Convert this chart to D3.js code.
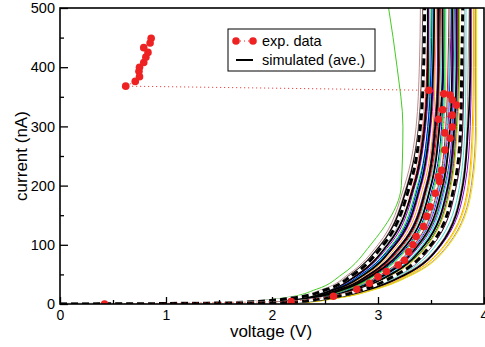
<!DOCTYPE html>
<html>
<head>
<meta charset="utf-8">
<script src="https://cdnjs.cloudflare.com/ajax/libs/d3/7.8.5/d3.min.js"></script>
<style>
  body { margin: 0; background: #fff; }
  svg { display: block; font-family: "Liberation Sans", Arial, Helvetica, sans-serif; }
</style>
</head>
<body>
<div id="chart"></div>
<script>
// current levels (nA) at which each simulated curve's voltage was read
const currentLevels = [0, 2, 10, 25, 50, 100, 200, 300, 400, 500];

// thin coloured simulated runs: voltage (V) at each current level
const simColors = [
  "#bc8f8f", "#bc8f8f", "#0000ff", "#b0b0b0", "#ff0000", "#9400d3", "#00ff00", "#00e5e5",
  "#ff00ff", "#ffa500", "#7221bc", "#670748", "#40e0d0", "#008b00", "#0000ff", "#b0b0b0",
  "#ff0000", "#9400d3", "#00ff00", "#00e5e5", "#ff00ff", "#ffa500", "#7221bc", "#670748",
  "#40e0d0", "#bc8f8f", "#9400d3", "#ffa500", "#f0e000", "#bc8f8f", "#f0e000",
  "#0000ff", "#ff0000", "#00ff00", "#00e5e5", "#9400d3", "#008b00", "#40e0d0"
];
const simVoltages = [
  [0, 1.55, 2.15, 2.48, 2.72, 3.00, 3.25, 3.36, 3.39, 3.40],
  [0, 1.57, 2.16, 2.50, 2.74, 3.02, 3.27, 3.38, 3.41, 3.42],
  [0, 1.59, 2.18, 2.51, 2.76, 3.04, 3.29, 3.39, 3.42, 3.43],
  [0, 1.62, 2.20, 2.53, 2.78, 3.07, 3.31, 3.42, 3.44, 3.45],
  [0, 1.64, 2.21, 2.55, 2.80, 3.09, 3.33, 3.43, 3.46, 3.47],
  [0, 1.66, 2.23, 2.56, 2.82, 3.11, 3.35, 3.45, 3.48, 3.48],
  [0, 1.68, 2.24, 2.58, 2.84, 3.13, 3.37, 3.47, 3.49, 3.50],
  [0, 1.70, 2.25, 2.59, 2.85, 3.15, 3.39, 3.48, 3.51, 3.52],
  [0, 1.73, 2.27, 2.61, 2.87, 3.17, 3.41, 3.50, 3.53, 3.53],
  [0, 1.75, 2.28, 2.62, 2.89, 3.19, 3.43, 3.52, 3.54, 3.55],
  [0, 1.77, 2.30, 2.64, 2.91, 3.21, 3.45, 3.53, 3.56, 3.56],
  [0, 1.79, 2.31, 2.65, 2.93, 3.23, 3.46, 3.55, 3.57, 3.58],
  [0, 1.81, 2.32, 2.67, 2.95, 3.25, 3.48, 3.57, 3.59, 3.60],
  [0, 1.83, 2.34, 2.68, 2.96, 3.27, 3.50, 3.58, 3.61, 3.61],
  [0, 1.85, 2.35, 2.70, 2.98, 3.29, 3.52, 3.60, 3.62, 3.63],
  [0, 1.87, 2.37, 2.71, 3.00, 3.31, 3.54, 3.62, 3.64, 3.64],
  [0, 1.90, 2.39, 2.73, 3.03, 3.34, 3.57, 3.64, 3.66, 3.67],
  [0, 1.93, 2.40, 2.75, 3.05, 3.36, 3.59, 3.66, 3.68, 3.69],
  [0, 1.96, 2.42, 2.77, 3.07, 3.39, 3.62, 3.68, 3.70, 3.71],
  [0, 1.98, 2.44, 2.79, 3.10, 3.42, 3.64, 3.71, 3.72, 3.73],
  [0, 2.01, 2.46, 2.81, 3.12, 3.44, 3.67, 3.73, 3.75, 3.75],
  [0, 2.04, 2.48, 2.83, 3.15, 3.47, 3.69, 3.75, 3.77, 3.77],
  [0, 2.07, 2.50, 2.85, 3.17, 3.50, 3.72, 3.77, 3.79, 3.79],
  [0, 2.10, 2.52, 2.87, 3.20, 3.52, 3.74, 3.80, 3.81, 3.81],
  [0, 2.12, 2.54, 2.89, 3.22, 3.55, 3.77, 3.82, 3.83, 3.83],
  [0, 2.15, 2.55, 2.91, 3.24, 3.58, 3.79, 3.84, 3.85, 3.86],
  [0, 2.18, 2.57, 2.93, 3.27, 3.60, 3.82, 3.87, 3.88, 3.88],
  [0, 2.21, 2.59, 2.95, 3.29, 3.63, 3.85, 3.89, 3.90, 3.90],
  [0, 2.22, 2.60, 2.96, 3.30, 3.64, 3.86, 3.90, 3.91, 3.91],
  [0, 2.24, 2.61, 2.97, 3.32, 3.66, 3.88, 3.92, 3.92, 3.92],
  [0, 2.25, 2.62, 2.98, 3.33, 3.67, 3.89, 3.93, 3.93, 3.93],
  [0, 1.69, 2.24, 2.58, 2.84, 3.14, 3.38, 3.47, 3.50, 3.51],
  [0, 1.80, 2.31, 2.66, 2.94, 3.24, 3.47, 3.56, 3.58, 3.59],
  [0, 1.86, 2.36, 2.70, 2.99, 3.30, 3.53, 3.61, 3.63, 3.63],
  [0, 1.92, 2.40, 2.74, 3.04, 3.35, 3.58, 3.65, 3.67, 3.68],
  [0, 1.97, 2.43, 2.78, 3.08, 3.40, 3.63, 3.70, 3.71, 3.72],
  [0, 2.03, 2.47, 2.82, 3.13, 3.46, 3.68, 3.74, 3.76, 3.76],
  [0, 1.72, 2.26, 2.60, 2.86, 3.16, 3.40, 3.49, 3.52, 3.52]
];

// the one run that bends back at high current
const outlierColor = "#44cc22";
const outlierVoltages = [0, 1.52, 2.10, 2.42, 2.66, 2.93, 3.22, 3.235, 3.18, 3.10];

// thick black runs
const blackVoltages = [
  [0, 1.59, 2.17, 2.51, 2.75, 3.03, 3.28, 3.39, 3.42, 3.43],
  [0, 1.65, 2.22, 2.55, 2.81, 3.09, 3.34, 3.44, 3.47, 3.47],
  [0, 1.72, 2.26, 2.60, 2.87, 3.16, 3.40, 3.49, 3.52, 3.53],
  [0, 1.78, 2.31, 2.65, 2.92, 3.22, 3.46, 3.54, 3.57, 3.57],
  [0, 1.83, 2.34, 2.68, 2.96, 3.27, 3.50, 3.58, 3.61, 3.61],
  [0, 1.95, 2.42, 2.77, 3.07, 3.38, 3.61, 3.68, 3.70, 3.70],
  [0, 2.01, 2.46, 2.81, 3.12, 3.44, 3.66, 3.72, 3.74, 3.74],
  [0, 2.08, 2.51, 2.86, 3.18, 3.51, 3.73, 3.79, 3.80, 3.80],
  [0, 2.17, 2.56, 2.92, 3.26, 3.59, 3.80, 3.85, 3.87, 3.87]
];

// simulated averages (black/white dashed)
const avgVoltages = [
  [0, 1.61, 2.19, 2.52, 2.77, 3.05, 3.30, 3.40, 3.43, 3.44],
  [0, 2.08, 2.50, 2.86, 3.18, 3.50, 3.72, 3.78, 3.79, 3.80]
];

// experimental data, in recorded order
const expVoltage = [0.42, 2.18, 2.58, 2.80, 2.92, 3.00, 3.08, 3.19, 3.25, 3.29, 3.33, 3.36, 3.43, 3.46, 3.49,
  3.54, 3.58, 3.57, 3.60, 3.63, 3.68, 3.63, 3.70, 3.57, 3.70, 3.61, 3.74, 3.70, 3.68, 3.62, 3.48,
  0.62, 0.71, 0.75, 0.745, 0.75, 0.79, 0.81, 0.83, 0.79, 0.85, 0.86];
const expCurrent = [0, 4, 13, 25, 35, 46, 55, 66, 74, 88, 100, 114, 131, 148, 164,
  187, 207, 215, 226, 260, 280, 289, 299, 312, 319, 328, 336, 345, 353, 355, 361,
  368, 376, 384, 393, 400, 408, 417, 425, 433, 441, 449];

const xTicks = [0, 1, 2, 3, 4];
const xMinor = [0.5, 1.5, 2.5, 3.5];
const yTicks = [0, 100, 200, 300, 400, 500];
const yMinor = [50, 150, 250, 350, 450];

const margin = {top: 8, right: 1, bottom: 43, left: 60};
const width = 485 - margin.left - margin.right;
const height = 347 - margin.top - margin.bottom;

const svg = d3.select("#chart")
  .append("svg")
    .attr("width", 485)
    .attr("height", 347)
  .append("g")
    .attr("transform", "translate(" + margin.left + "," + margin.top + ")");

const x = d3.scaleLinear().domain([0, 4]).range([0, width]);
const y = d3.scaleLinear().domain([0, 500]).range([height, 0]);

svg.append("clipPath").attr("id", "plot-clip")
  .append("rect").attr("width", width).attr("height", height);

const plot = svg.append("g").attr("clip-path", "url(#plot-clip)");

const simLine = d3.line()
  .x(d => x(d[0]))
  .y(d => y(d[1]))
  .curve(d3.curveMonotoneY);

function toPoints(volts) {
  return volts.map((v, i) => [v, currentLevels[i]]);
}

// coloured runs
simVoltages.forEach((volts, i) => {
  plot.append("path")
    .attr("d", simLine(toPoints(volts)))
    .attr("fill", "none")
    .attr("stroke", simColors[i])
    .attr("stroke-width", 1);
});

plot.append("path")
  .attr("d", simLine(toPoints(outlierVoltages)))
  .attr("fill", "none")
  .attr("stroke", outlierColor)
  .attr("stroke-width", 1);

// black runs
blackVoltages.forEach(volts => {
  plot.append("path")
    .attr("d", simLine(toPoints(volts)))
    .attr("fill", "none")
    .attr("stroke", "#000")
    .attr("stroke-width", 1.8);
});

// averages
avgVoltages.forEach(volts => {
  plot.append("path")
    .attr("d", simLine(toPoints(volts)))
    .attr("fill", "none")
    .attr("stroke", "#fff")
    .attr("stroke-width", 3);
  plot.append("path")
    .attr("d", simLine(toPoints(volts)))
    .attr("fill", "none")
    .attr("stroke", "#000")
    .attr("stroke-width", 3)
    .attr("stroke-dasharray", "7,4");
});

// experimental data
const expPoints = expVoltage.map((v, i) => [v, expCurrent[i]]);
plot.append("path")
  .attr("d", d3.line().x(d => x(d[0])).y(d => y(d[1]))(expPoints))
  .attr("fill", "none")
  .attr("stroke", "#ee2222")
  .attr("stroke-width", 1)
  .attr("stroke-dasharray", "1,3");

plot.selectAll(".dot")
  .data(expPoints)
  .enter()
  .append("circle")
    .attr("class", "dot")
    .attr("cx", d => x(d[0]))
    .attr("cy", d => y(d[1]))
    .attr("r", 3.8)
    .attr("fill", "#ee2222");

// axes, ticks pointing inward
const xAxis = svg.append("g")
  .attr("transform", "translate(0," + height + ")")
  .style("font-size", "14px")
  .call(d3.axisBottom(x).tickValues(xTicks).tickFormat(d3.format("d")).tickSize(-7).tickPadding(6));
xAxis.select(".domain").remove();

const xAxisMinor = svg.append("g")
  .attr("transform", "translate(0," + height + ")")
  .call(d3.axisBottom(x).tickValues(xMinor).tickFormat("").tickSize(-4));
xAxisMinor.select(".domain").remove();

const yAxis = svg.append("g")
  .style("font-size", "14.5px")
  .call(d3.axisLeft(y).tickValues(yTicks).tickSize(-8).tickPadding(5));
yAxis.select(".domain").remove();

const yAxisMinor = svg.append("g")
  .call(d3.axisLeft(y).tickValues(yMinor).tickFormat("").tickSize(-4));
yAxisMinor.select(".domain").remove();

svg.selectAll(".tick line").attr("stroke-width", 1.3);
svg.selectAll(".tick text").attr("font-family", "'Liberation Sans', Arial, sans-serif").attr("fill", "#000");

svg.append("rect")
  .attr("width", width)
  .attr("height", height)
  .attr("fill", "none")
  .attr("stroke", "#000")
  .attr("stroke-width", 1.6);

// axis titles
svg.append("text")
  .attr("x", width / 2 - 1)
  .attr("y", height + 33)
  .attr("text-anchor", "middle")
  .style("font-size", "17px")
  .text("voltage (V)");

svg.append("text")
  .attr("transform", "translate(" + (27 - margin.left) + "," + (height / 2) + ") rotate(-90)")
  .attr("text-anchor", "middle")
  .style("font-size", "17px")
  .text("current (nA)");

// legend
const legend = svg.append("g").attr("transform", "translate(" + (228 - margin.left) + "," + (29 - margin.top) + ")");
legend.append("rect")
  .attr("width", 147)
  .attr("height", 42)
  .attr("fill", "#fff")
  .attr("stroke", "#000")
  .attr("stroke-width", 1);
legend.append("line")
  .attr("x1", 8).attr("x2", 25).attr("y1", 12).attr("y2", 12)
  .attr("stroke", "#ee2222").attr("stroke-width", 1).attr("stroke-dasharray", "1,3");
legend.selectAll(".ldot")
  .data([8, 25])
  .enter()
  .append("circle")
    .attr("cx", d => d)
    .attr("cy", 12)
    .attr("r", 3.8)
    .attr("fill", "#ee2222");
legend.append("text")
  .attr("x", 34).attr("y", 17)
  .style("font-size", "14.5px")
  .text("exp. data");
legend.append("line")
  .attr("x1", 8).attr("x2", 25).attr("y1", 31).attr("y2", 31)
  .attr("stroke", "#000").attr("stroke-width", 2);
legend.append("text")
  .attr("x", 34).attr("y", 36)
  .style("font-size", "14.5px")
  .text("simulated (ave.)");
</script>
</body>
</html>
